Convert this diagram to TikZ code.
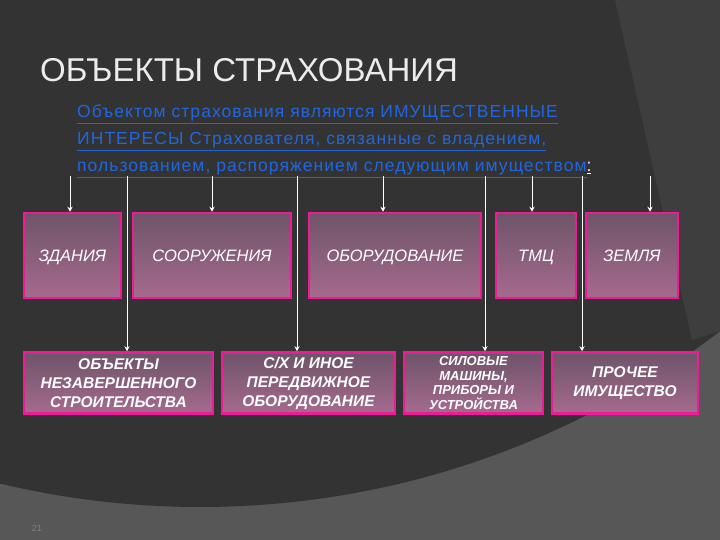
\documentclass[tikz,border=0pt]{standalone}
\usepackage{fontspec}
\setmainfont{Liberation Sans}
\usetikzlibrary{arrows.meta}
\begin{document}
\begin{tikzpicture}[x=1pt,y=-1pt,
  box/.style={draw=magenta!90!white,line width=2.5pt,top color=boxtop,bottom color=boxbot,text=white,font=\itshape\fontsize{16.5}{19}\selectfont,align=center,inner sep=0pt},
  box2/.style={box,font=\bfseries\itshape\fontsize{15.5}{19}\selectfont},
  arr/.style={draw=white,line width=1pt,-{Stealth[length=5pt,width=5pt]}},
  ln/.style={font=\fontsize{17.5}{20}\selectfont\addfontfeature{LetterSpace=6},text=linkblue,anchor=base west,inner sep=0pt}]
\definecolor{boxtop}{HTML}{6E5468}
\definecolor{boxbot}{HTML}{A66A8E}
\definecolor{linkblue}{HTML}{2266DD}
\definecolor{bgdark}{HTML}{333333}
\definecolor{bglight}{HTML}{575757}
\useasboundingbox (0,0) rectangle (720,540);
\fill[bglight] (0,0) rectangle (720,540);
\fill[bgdark] (200,-350) circle[radius=857];
\fill[bgdark!70!bglight] (615,0) -- (720,0) -- (720,331) -- (692,340) -- cycle;
\node[anchor=base west,text=white!85!gray,font=\fontsize{33}{36}\selectfont,inner sep=0pt] (title) at (40,82) {ОБЪЕКТЫ СТРАХОВАНИЯ};
\node[ln] (l1) at (77,118) {\underline{Объектом страхования являются ИМУЩЕСТВЕННЫЕ}};
\node[ln] (l2) at (77,145) {\underline{ИНТЕРЕСЫ Страхователя, связанные с владением,}};
\node[ln] (l3) at (77,172) {\underline{пользованием, распоряжением следующим имуществом}\textcolor{white}{\underline{:}}};
\tikzset{r1/.style={box,minimum height=85,text height=12pt,text depth=0pt}}
\node[r1,minimum width=97] (b1) at (72.5,255.5) {ЗДАНИЯ};
\node[r1,minimum width=158] (b2) at (212,255.5) {СООРУЖЕНИЯ};
\node[r1,minimum width=172] (b3) at (395,255.5) {ОБОРУДОВАНИЕ};
\node[r1,minimum width=80] (b4) at (536,255.5) {ТМЦ};
\node[r1,minimum width=92] (b5) at (632,255.5) {ЗЕМЛЯ};
\node[box2,minimum width=189,minimum height=61] (c1) at (118.5,383) {ОБЪЕКТЫ\\НЕЗАВЕРШЕННОГО\\СТРОИТЕЛЬСТВА};
\node[box2,minimum width=173,minimum height=61] (c2) at (308.5,383) {С/Х И ИНОЕ\\ПЕРЕДВИЖНОЕ\\ОБОРУДОВАНИЕ};
\node[box2,minimum width=139,minimum height=61,font=\bfseries\itshape\fontsize{13}{14.5}\selectfont] (c3) at (473.5,383) {СИЛОВЫЕ\\МАШИНЫ,\\ПРИБОРЫ И\\УСТРОЙСТВА};
\node[box2,minimum width=146,minimum height=61] (c4) at (625,383) {ПРОЧЕЕ\\ИМУЩЕСТВО};
\coordinate (s1) at (70,176); \coordinate (s2) at (212,176); \coordinate (s3) at (383,176);
\coordinate (s4) at (532,176); \coordinate (s5) at (650,176);
\coordinate (t1) at (127,176); \coordinate (t2) at (297,176); \coordinate (t3) at (485,176); \coordinate (t4) at (582,176);
\draw[arr] (s1) -- (s1 |- b1.north);
\draw[arr] (s2) -- (s2 |- b2.north);
\draw[arr] (s3) -- (s3 |- b3.north);
\draw[arr] (s4) -- (s4 |- b4.north);
\draw[arr] (s5) -- (s5 |- b5.north);
\draw[arr] (t1) -- (t1 |- c1.north);
\draw[arr] (t2) -- (t2 |- c2.north);
\draw[arr] (t3) -- (t3 |- c3.north);
\draw[arr] (t4) -- (t4 |- c4.north);
\node[text=gray,font=\fontsize{9}{10}\selectfont] (pg) at (37,528) {21};
\end{tikzpicture}
\end{document}
